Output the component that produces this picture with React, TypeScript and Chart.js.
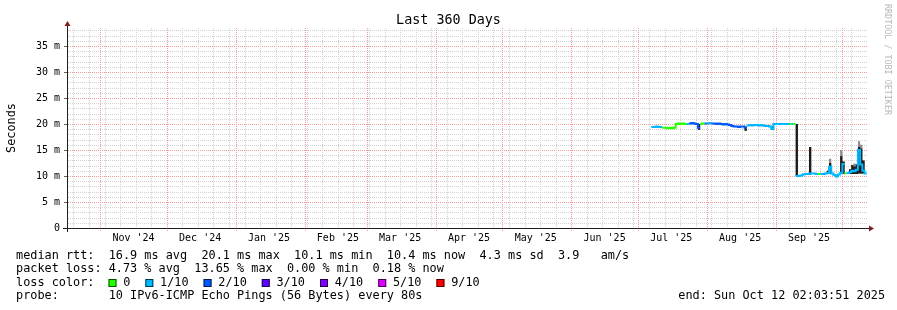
import { useEffect, useRef } from "react";
import { Chart, registerables } from "chart.js";

Chart.register(...registerables);

const W = 897;
const H = 310;
const MONO = "'DejaVu Sans Mono', monospace";

// ---- time axis ----
const END_TIME = Date.UTC(2025, 9, 12, 2, 3, 51);
const SPAN_DAYS = 360;
const DAY = 86400000;
const START_TIME = END_TIME - SPAN_DAYS * DAY;

const monthStarts = [
  "2024-11-01", "2024-12-01", "2025-01-01", "2025-02-01", "2025-03-01", "2025-04-01",
  "2025-05-01", "2025-06-01", "2025-07-01", "2025-08-01", "2025-09-01", "2025-10-01",
];
const monthLabels = [
  "Nov '24", "Dec '24", "Jan '25", "Feb '25", "Mar '25", "Apr '25",
  "May '25", "Jun '25", "Jul '25", "Aug '25", "Sep '25", "Oct '25",
];
const firstWeekLine = "2024-10-20";

// ---- value axis (milliseconds) ----
const Y_MAX = 38.46;
const yMajorValues = [0, 5, 10, 15, 20, 25, 30, 35];
const yMajorLabels = ["0", "5 m", "10 m", "15 m", "20 m", "25 m", "30 m", "35 m"];

// ---- series: one value per day starting at seriesStart ----
const seriesStart = "2025-07-07";
const medianRtt = [
  19.4, 19.4, 19.5, 19.4, 19.4,
  19.3, 19.3, 19.2, 19.3, 19.2, 19.3,
  20.0, 20.1, 20.0, 20.1, 20.0,
  20.0, 20.1, 20.2, 20.1, 20.0,
  19.3,
  20.0, 20.1,
  20.1, 20.1, 20.2, 20.1, 20.1, 20.0, 20.1,
  20.0, 19.9, 20.0, 19.9, 19.8,
  19.6, 19.5, 19.5, 19.4, 19.5, 19.5, 19.3,
  19.7, 19.8, 19.7, 19.8, 19.8, 19.7, 19.8, 19.7, 19.6, 19.6,
  19.5, 19.1,
  20.0, 20.0, 20.0, 20.0, 20.0, 20.0, 20.0, 20.0, 20.0, 20.0,
  10.0, 10.0, 10.1,
  10.3, 10.4, 10.4,
  10.5,
  10.5, 10.5, 10.4,
  10.4,
  10.4, 10.4, 10.5,
  10.6, 11.8, 10.5,
  10.2, 9.9, 10.3,
  10.6, 12.3,
  10.5, 10.6,
  10.7, 11.0, 10.9, 11.2,
  15.0, 12.2, 11.0,
  10.5,
];
// loss class per day: index into lossColors
const lossClass = [
  1, 1, 1, 1, 1,
  0, 0, 0, 0, 0, 0,
  0, 0, 0, 0, 0,
  1, 2, 2, 2, 2,
  2,
  0, 0,
  2, 1, 1, 2, 2, 2, 2,
  2, 2, 2, 2, 2,
  2, 2, 2, 2, 2, 2, 2,
  1, 1, 1, 1, 1, 1, 1, 1, 1, 1,
  1, 1,
  1, 1, 1, 1, 1, 1, 1, 0, 1, 0,
  1, 1, 1,
  1, 1, 1,
  1,
  1, 1, 1,
  0,
  1, 1, 1,
  1, 1, 1,
  1, 1, 1,
  1, 1,
  0, 1,
  1, 1, 1, 1,
  1, 1, 1,
  1,
];
// smoke (ping spread) on the days where it shows
const smokeDay = [21, 42, 54, 65, 71, 79, 80, 85, 86, 89, 90, 91, 92, 93, 94, 95];
const smokeLow = [18.9, 18.7, 18.9, 10.0, 10.3, 10.4, 10.4, 10.4, 10.4, 10.4, 10.4, 10.4, 10.4, 10.5, 10.5, 10.5];
const smokeDarkTop = [20.0, 19.5, 19.6, 20.0, 15.6, 11.0, 12.5, 13.8, 12.8, 11.3, 12.1, 11.8, 12.2, 15.6, 15.3, 13.0];
const smokeLightTop = [20.0, 19.5, 19.6, 20.0, 15.6, 11.0, 13.3, 15.0, 12.8, 11.3, 12.1, 12.4, 12.2, 16.7, 16.0, 13.0];

// ---- legend ----
const TITLE = "Last 360 Days";
const Y_TITLE = "Seconds";
const WATERMARK = "RRDTOOL / TOBI OETIKER";
const rttLine = "median rtt:  16.9 ms avg  20.1 ms max  10.1 ms min  10.4 ms now  4.3 ms sd  3.9   am/s";
const lossLine = "packet loss: 4.73 % avg  13.65 % max  0.00 % min  0.18 % now";
const lossColorTitle = "loss color:";
const lossLegend = ["0", "1/10", "2/10", "3/10", "4/10", "5/10", "9/10"];
const lossColors = ["#26ff00", "#00b8ff", "#0059ff", "#5e00ff", "#7e00ff", "#dd00ff", "#ff0000"];
const probeLine = "probe:       10 IPv6-ICMP Echo Pings (56 Bytes) every 80s";
const endLine = "end: Sun Oct 12 02:03:51 2025";

const GRID = "#d2d2d2";
const MGRID = "#f09a9a";
const AXIS = "rgb(31,31,31)";
const ARROW = "rgb(128,31,31)";

function parseDay(s: string) {
  return Date.parse(s + "T00:00:00Z");
}

export default function App() {
  const ref = useRef<HTMLCanvasElement | null>(null);

  useEffect(() => {
    document.body.style.margin = "0";
    const canvas = ref.current;
    if (!canvas) return;

    // x: weekly minor lines, month lines, month labels (mid-month)
    const weekLines: number[] = [];
    for (let t = parseDay(firstWeekLine); t <= END_TIME; t += 7 * DAY) weekLines.push(t);
    const monthLines = monthStarts.map(parseDay).filter((t) => t >= START_TIME && t <= END_TIME);
    const label = new Map<number, string>();
    monthStarts.forEach((m, i) => {
      const lt = parseDay(m) + 15 * DAY;
      if (lt >= START_TIME && lt <= END_TIME) label.set(lt, monthLabels[i]);
    });
    const xTicks = Array.from(label.keys()).sort((a, b) => a - b);

    const yTicks: number[] = [];
    for (let v = 0; v <= Math.floor(Y_MAX); v++) yTicks.push(v);

    // series points: each day is a flat step
    const t0 = parseDay(seriesStart);
    const med: { x: number; y: number }[] = [];
    const lo: { x: number; y: number }[] = [];
    const dark: { x: number; y: number }[] = [];
    const light: { x: number; y: number }[] = [];
    medianRtt.forEach((v, i) => {
      const a = t0 + i * DAY;
      const b = a + DAY;
      const si = smokeDay.indexOf(i);
      const l = si >= 0 ? smokeLow[si] : v;
      const d = si >= 0 ? smokeDarkTop[si] : v;
      const g = si >= 0 ? smokeLightTop[si] : v;
      med.push({ x: a, y: v }, { x: b, y: v });
      lo.push({ x: a, y: l }, { x: b, y: l });
      dark.push({ x: a, y: d }, { x: b, y: d });
      light.push({ x: a, y: g }, { x: b, y: g });
    });

    const segColor = (c: any) => {
      const i0 = c.p0DataIndex;
      const k = Math.floor(i0 / 2);
      if (i0 % 2 === 0) return lossColors[lossClass[k]];
      return lossClass[k] === lossClass[k + 1] ? lossColors[lossClass[k]] : "rgba(0,0,0,0)";
    };

    const decor = {
      id: "rrdDecor",
      beforeDatasetsDraw(chart: any) {
        const ctx = chart.ctx as CanvasRenderingContext2D;
        const { left, right, top, bottom } = chart.chartArea;
        const xs = chart.scales.x;
        const ys = chart.scales.y;
        ctx.save();
        // horizontal grid (dotted)
        yTicks.forEach((v) => {
          if (v === 0) return;
          const y = Math.round(ys.getPixelForValue(v));
          ctx.fillStyle = v % 5 === 0 ? MGRID : GRID;
          for (let x = left + 1; x < right; x += 2) ctx.fillRect(x, y, 1, 1);
          if (v % 5 === 0) {
            ctx.fillStyle = "rgba(60,60,60,0.8)";
            ctx.fillRect(left - 3, y, 3, 1);
          }
        });
        // vertical grid (dotted)
        const vline = (t: number, color: string, ext: number) => {
          const x = Math.round(xs.getPixelForValue(t));
          if (x <= left || x >= right) return;
          ctx.fillStyle = color;
          for (let y = top; y < bottom + ext; y += 2) ctx.fillRect(x, y, 1, 1);
        };
        weekLines.forEach((t) => {
          if (!monthLines.includes(t)) vline(t, GRID, 0);
        });
        monthLines.forEach((t) => vline(t, MGRID, 4));
        ctx.restore();
      },
      afterDatasetsDraw(chart: any) {
        const ctx = chart.ctx as CanvasRenderingContext2D;
        const { left, right, top, bottom } = chart.chartArea;
        ctx.save();
        ctx.strokeStyle = AXIS;
        ctx.lineWidth = 1;
        ctx.beginPath();
        ctx.moveTo(left - 4, bottom + 0.5);
        ctx.lineTo(right + 4, bottom + 0.5);
        ctx.moveTo(left + 0.5, bottom + 4);
        ctx.lineTo(left + 0.5, top - 4);
        ctx.stroke();
        ctx.fillStyle = ARROW;
        ctx.beginPath();
        ctx.moveTo(right + 2, bottom + 0.5 - 3);
        ctx.lineTo(right + 2, bottom + 0.5 + 3);
        ctx.lineTo(right + 7, bottom + 0.5);
        ctx.closePath();
        ctx.fill();
        ctx.beginPath();
        ctx.moveTo(left + 0.5 - 3, top - 2);
        ctx.lineTo(left + 0.5 + 3, top - 2);
        ctx.lineTo(left + 0.5, top - 7);
        ctx.closePath();
        ctx.fill();
        ctx.restore();
      },
      afterDraw(chart: any) {
        const ctx = chart.ctx as CanvasRenderingContext2D;
        const { top, bottom } = chart.chartArea;
        ctx.save();
        ctx.fillStyle = "#000";
        ctx.textBaseline = "alphabetic";
        // title
        ctx.font = `13.4px ${MONO}`;
        ctx.textAlign = "center";
        ctx.fillText(TITLE, W / 2, 24);
        // y title
        ctx.font = `11.85px ${MONO}`;
        ctx.save();
        ctx.translate(11.5, (top + bottom) / 2);
        ctx.rotate(-Math.PI / 2);
        ctx.textBaseline = "middle";
        ctx.fillText(Y_TITLE, 0, 0);
        ctx.restore();
        // watermark
        ctx.save();
        ctx.font = `8.4px ${MONO}`;
        ctx.fillStyle = "#b8b8b8";
        ctx.translate(887, 59.5);
        ctx.rotate(Math.PI / 2);
        ctx.textBaseline = "middle";
        ctx.textAlign = "center";
        ctx.fillText(WATERMARK, 0, 0);
        ctx.restore();
        // legend rows
        ctx.textAlign = "left";
        ctx.font = `11.85px ${MONO}`;
        const x0 = 16;
        ctx.fillText(rttLine, x0, 258.5);
        ctx.fillText(lossLine, x0, 272);
        ctx.fillText(lossColorTitle, x0, 285.7);
        let bx = 108.5;
        lossLegend.forEach((lab, i) => {
          ctx.fillStyle = lossColors[i];
          ctx.fillRect(bx, 279, 8, 8);
          ctx.strokeStyle = "rgba(0,0,0,0.7)";
          ctx.lineWidth = 1;
          ctx.strokeRect(bx + 0.5, 279.5, 7, 7);
          ctx.fillStyle = "#000";
          const tx = bx + 14.7;
          ctx.fillText(lab, tx, 285.7);
          bx = tx + ctx.measureText(lab).width + 15;
        });
        ctx.fillText(probeLine, x0, 299.3);
        ctx.fillText(endLine, 678.3, 299.3);
        ctx.restore();
      },
    };

    const chart = new Chart(canvas, {
      type: "line",
      data: {
        datasets: [
          { label: "smoke low", data: lo, borderWidth: 0, pointRadius: 0, fill: false, order: 3 },
          { label: "smoke light", data: light, borderWidth: 0, pointRadius: 0, fill: "-1", backgroundColor: "#8c8c8c", order: 2 },
          { label: "smoke dark", data: dark, borderWidth: 0, pointRadius: 0, fill: "-2", backgroundColor: "#1c1c1c", order: 1 },
          {
            label: "median rtt",
            data: med,
            borderWidth: 2,
            pointRadius: 0,
            fill: false,
            borderColor: lossColors[1],
            borderCapStyle: "butt",
            borderJoinStyle: "miter",
            segment: { borderColor: segColor },
            order: 0,
          },
        ],
      },
      options: {
        animation: false,
        responsive: false,
        devicePixelRatio: 1,
        events: [],
        layout: { padding: { top: 28, right: 30, left: 0, bottom: 0 } },
        plugins: { legend: { display: false }, tooltip: { enabled: false }, title: { display: false } },
        scales: {
          x: {
            type: "linear",
            min: START_TIME,
            max: END_TIME,
            afterFit: (s: any) => {
              s.height = 82;
            },
            afterBuildTicks: (s: any) => {
              s.ticks = xTicks.map((v) => ({ value: v }));
            },
            ticks: {
              autoSkip: false,
              maxRotation: 0,
              minRotation: 0,
              padding: 4,
              color: "#000",
              font: { family: MONO, size: 10 },
              callback: (v: any) => label.get(Number(v)) ?? "",
            },
            grid: { display: false, drawTicks: false },
            border: { display: false },
          },
          y: {
            type: "linear",
            min: 0,
            max: Y_MAX,
            afterFit: (s: any) => {
              s.width = 67;
            },
            afterBuildTicks: (s: any) => {
              s.ticks = yMajorValues.map((v) => ({ value: v }));
            },
            ticks: {
              autoSkip: false,
              padding: 7,
              color: "#000",
              font: { family: MONO, size: 10 },
              callback: (v: any) => {
                const i = yMajorValues.indexOf(Number(v));
                return i >= 0 ? yMajorLabels[i] : "";
              },
            },
            grid: { display: false, drawTicks: false },
            border: { display: false },
          },
        },
      },
      plugins: [decor],
    } as any);

    return () => chart.destroy();
  }, []);

  return (
    <div style={{ position: "absolute", left: 0, top: 0, width: W, height: H, background: "#fff" }}>
      <canvas ref={ref} width={W} height={H} style={{ display: "block", width: W, height: H }} />
    </div>
  );
}
